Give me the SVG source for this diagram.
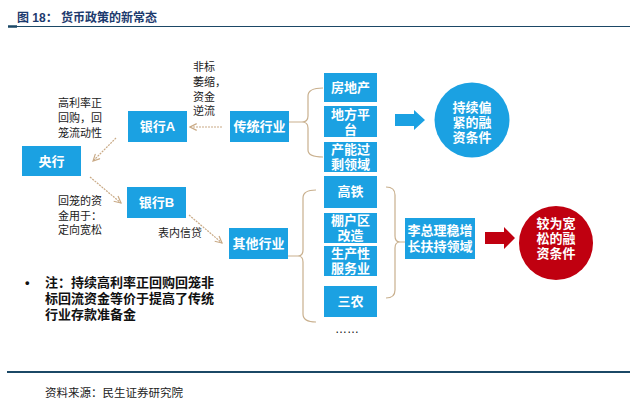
<svg xmlns="http://www.w3.org/2000/svg" width="638" height="401" viewBox="0 0 638 401">
<defs>
<style>
.box{fill:#1ba1e2}
.bt{fill:#fff;font-family:"Liberation Sans","Noto Sans CJK SC",sans-serif;font-weight:700;font-size:13px;text-anchor:middle}
.hw{fill:#1a1a1a;font-family:"Liberation Sans","Noto Sans CJK SC",sans-serif;font-size:11px}
.brace{fill:none;stroke:#c9b08e;stroke-width:1.2}
.conn{fill:none;stroke:#c9aa86;stroke-width:1.2;stroke-dasharray:2 1}
.note{fill:#111;font-family:"Liberation Sans","Noto Sans CJK SC",sans-serif;font-weight:700;font-size:13px}
</style>
<marker id="ah" viewBox="0 0 10 10" refX="9" refY="5" markerWidth="7" markerHeight="7" orient="auto">
<path d="M1,1 L9,5 L1,9" fill="none" stroke="#c9aa86" stroke-width="1.4"/>
</marker>
</defs>
<rect width="638" height="401" fill="#fff"/>

<g id="title">
<text x="17" y="22" fill="#1c3a6e" font-family="Liberation Sans,Noto Sans CJK SC,sans-serif" font-size="12" font-weight="700">图 18： 货币政策的新常态</text>
<line x1="8" y1="26.5" x2="630" y2="26.5" stroke="#1b4866" stroke-width="1.2"/>
<line x1="8" y1="26.5" x2="17" y2="26.5" stroke="#1b4866" stroke-width="2.5"/>
</g>

<g id="connectors">
<line class="conn" x1="222" y1="127" x2="190" y2="127" marker-end="url(#ah)"/>
<line class="conn" x1="116" y1="138" x2="93" y2="161" marker-end="url(#ah)"/>
<line class="conn" x1="90" y1="177" x2="121" y2="203" marker-end="url(#ah)"/>
<line class="conn" x1="189" y1="215" x2="222" y2="243" marker-end="url(#ah)"/>
<path class="brace" d="M289,122 L302,122 Q308,122 308,116 L308,96 Q308,88 323,88 M302,122 Q308,122 308,128 L308,150 Q308,157 323,157"/>
<path class="brace" d="M288,256 L298,256 Q303,256 303,250 L303,198 Q303,190 316,190 M298,256 Q303,256 303,262 L303,314 Q303,322 316,322"/>
<path class="brace" d="M405,242 L400,242 Q395,242 395,236 L395,195 Q395,187 386,187 M400,242 Q395,242 395,248 L395,290 Q395,298 386,298"/>
<polygon points="395,114 414,114 414,110 425,120 414,130 414,126 395,126" fill="#1ba1e2"/>
<polygon points="485,232 504,232 504,227 515,238 504,249 504,244 485,244" fill="#c00010"/>
</g>

<g id="yanghang"><rect class="box" x="22" y="146" width="59" height="30"/><text class="bt" x="51.5" y="166">央行</text></g>
<g id="bankA"><rect class="box" x="128" y="111" width="59" height="31"/><text class="bt" x="157.5" y="131">银行A</text></g>
<g id="bankB"><rect class="box" x="127" y="187" width="59" height="31"/><text class="bt" x="156.5" y="207">银行B</text></g>
<g id="chuantong"><rect class="box" x="230" y="111" width="59" height="31"/><text class="bt" x="259.5" y="131">传统行业</text></g>
<g id="qita"><rect class="box" x="229" y="228" width="59" height="31"/><text class="bt" x="258.5" y="248">其他行业</text></g>

<g id="fangdichan"><rect class="box" x="324" y="73" width="53" height="29"/><text class="bt" x="350.5" y="92">房地产</text></g>
<g id="difang"><rect class="box" x="324" y="106" width="53" height="31"/><text class="bt" x="350.5" y="119">地方平<tspan x="350.5" dy="15">台</tspan></text></g>
<g id="channeng"><rect class="box" x="324" y="142" width="53" height="30"/><text class="bt" x="350.5" y="154">产能过<tspan x="350.5" dy="15">剩领域</tspan></text></g>
<g id="gaotie"><rect class="box" x="324" y="176" width="53" height="32"/><text class="bt" x="350.5" y="196">高铁</text></g>
<g id="penghu"><rect class="box" x="324" y="213" width="53" height="30"/><text class="bt" x="350.5" y="225">棚户区<tspan x="350.5" dy="15">改造</tspan></text></g>
<g id="shengchan"><rect class="box" x="324" y="246" width="53" height="30"/><text class="bt" x="350.5" y="258">生产性<tspan x="350.5" dy="15">服务业</tspan></text></g>
<g id="sannong"><rect class="box" x="324" y="286" width="53" height="31"/><text class="bt" x="350.5" y="306">三农</text></g>
<text x="347" y="333" text-anchor="middle" fill="#111" font-family="Liberation Sans,sans-serif" font-size="12">……</text>

<g id="lizongli"><rect class="box" x="405" y="218" width="70" height="41"/><text class="bt" x="440" y="235">李总理稳增<tspan x="440" dy="16">长扶持领域</tspan></text></g>

<g id="circleBlue"><circle cx="472" cy="120" r="37.5" fill="#1ba1e2"/><text class="bt" x="472" y="112">持续偏<tspan x="472" dy="15">紧的融</tspan><tspan x="472" dy="15">资条件</tspan></text></g>
<g id="circleRed"><circle cx="556" cy="243" r="37" fill="#c00010"/><text class="bt" x="556" y="228">较为宽<tspan x="556" dy="15">松的融</tspan><tspan x="556" dy="15">资条件</tspan></text></g>

<g id="labels">
<text class="hw" x="193" y="71">非标<tspan x="193" dy="15">萎缩，</tspan><tspan x="193" dy="15">资金</tspan><tspan x="193" dy="14">逆流</tspan></text>
<text class="hw" x="58" y="107">高利率正<tspan x="58" dy="15">回购，回</tspan><tspan x="58" dy="15">笼流动性</tspan></text>
<text class="hw" x="58" y="205">回笼的资<tspan x="58" dy="15">金用于：</tspan><tspan x="58" dy="14">定向宽松</tspan></text>
<text class="hw" x="158" y="237">表内信贷</text>
</g>

<g id="note">
<text class="note" x="25" y="287">•</text>
<text class="note" x="45" y="287">注：持续高利率正回购回笼非<tspan x="45" dy="16">标回流资金等价于提高了传统</tspan><tspan x="45" dy="16">行业存款准备金</tspan></text>
</g>

<g id="footer">
<line x1="7" y1="372" x2="630" y2="372" stroke="#1b4866" stroke-width="2"/>
<text x="45" y="397" fill="#222" font-family="Liberation Sans,Noto Sans CJK SC,sans-serif" font-size="11.5">资料来源：民生证券研究院</text>
</g>
</svg>
